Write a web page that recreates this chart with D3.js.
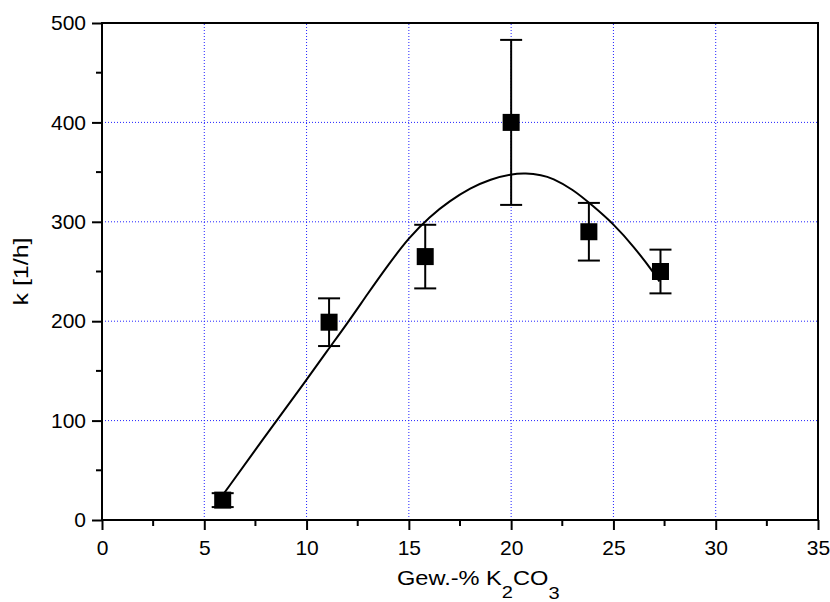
<!DOCTYPE html>
<html>
<head>
<meta charset="utf-8">
<title>k vs K2CO3</title>
<script src="https://d3js.org/d3.v7.min.js"></script>
<style>
    body { margin: 0; background: #fff; }
    text { font-family: "Liberation Sans", Arial, sans-serif; fill: #000; }
</style>
</head>
<body>
<script>
    // measured points (x = Gew.-% K2CO3, k in 1/h, error +/-)
    const xValues = [5.9, 11.1, 15.8, 20.0, 23.8, 27.3];
    const kValues = [20, 199, 265, 400, 290, 250];
    const kErrors = [7, 24, 32, 83, 29, 22];

    // fitted curve
    const fitX = [5.9, 8, 10, 11, 12, 13, 14, 15, 16, 17, 18, 19, 20, 20.7, 21.5, 22, 23, 24, 25, 26, 27, 27.25];
    const fitY = [25, 85, 141, 170, 198, 228, 257, 284, 305, 321, 334, 343, 348, 349, 347, 344, 333, 316, 298, 275, 248, 240];

    const xTicks = [0, 5, 10, 15, 20, 25, 30, 35];
    const yTicks = [0, 100, 200, 300, 400, 500];

    const width = 830, height = 602;
    const margin = { left: 102, right: 12, top: 23, bottom: 82 };

    const svg = d3.select("body").append("svg")
        .attr("width", width)
        .attr("height", height);

    const x = d3.scaleLinear().domain([0, 35]).range([margin.left, width - margin.right]);
    const y = d3.scaleLinear().domain([0, 500]).range([height - margin.bottom, margin.top]);

    // grid
    const grid = svg.append("g")
        .attr("stroke", "#2020ff")
        .attr("stroke-width", 1)
        .attr("stroke-dasharray", "1,2");
    grid.selectAll(".gx").data(xTicks.slice(1, -1)).join("line")
        .attr("class", "gx")
        .attr("x1", d => x(d)).attr("x2", d => x(d))
        .attr("y1", y(0)).attr("y2", y(500));
    grid.selectAll(".gy").data(yTicks.slice(1, -1)).join("line")
        .attr("class", "gy")
        .attr("y1", d => y(d)).attr("y2", d => y(d))
        .attr("x1", x(0)).attr("x2", x(35));

    // axes
    const xAxis = d3.axisBottom(x).tickValues(xTicks).tickSize(10).tickPadding(10).tickSizeOuter(0);
    const yAxis = d3.axisLeft(y).tickValues(yTicks).tickSize(10).tickPadding(6).tickSizeOuter(0);

    const gx = svg.append("g").attr("transform", "translate(0," + y(0) + ")").call(xAxis);
    const gy = svg.append("g").attr("transform", "translate(" + x(0) + ",0)").call(yAxis);
    [gx, gy].forEach(function(g) {
        g.select(".domain").remove();
        g.selectAll(".tick line").attr("stroke", "#000").attr("stroke-width", 2);
        g.selectAll(".tick text").attr("font-size", 21);
    });

    // minor ticks
    const minorX = d3.range(2.5, 35, 5);
    const minorY = d3.range(50, 500, 100);
    svg.append("g").selectAll("line").data(minorX).join("line")
        .attr("x1", d => x(d)).attr("x2", d => x(d))
        .attr("y1", y(0)).attr("y2", y(0) + 6)
        .attr("stroke", "#000").attr("stroke-width", 2);
    svg.append("g").selectAll("line").data(minorY).join("line")
        .attr("y1", d => y(d)).attr("y2", d => y(d))
        .attr("x1", x(0)).attr("x2", x(0) - 6)
        .attr("stroke", "#000").attr("stroke-width", 2);

    // frame
    svg.append("rect")
        .attr("x", x(0)).attr("y", y(500))
        .attr("width", x(35) - x(0)).attr("height", y(0) - y(500))
        .attr("fill", "none").attr("stroke", "#000").attr("stroke-width", 2);

    // fit line
    const fit = fitX.map((d, i) => [d, fitY[i]]);
    svg.append("path")
        .datum(fit)
        .attr("fill", "none")
        .attr("stroke", "#000")
        .attr("stroke-width", 2)
        .attr("d", d3.line().x(d => x(d[0])).y(d => y(d[1])).curve(d3.curveBasis));

    // error bars and markers
    const pts = xValues.map((d, i) => ({ x: d, k: kValues[i], e: kErrors[i] }));
    const err = svg.append("g").attr("stroke", "#000").attr("stroke-width", 2);
    err.selectAll(".v").data(pts).join("line")
        .attr("class", "v")
        .attr("x1", d => x(d.x)).attr("x2", d => x(d.x))
        .attr("y1", d => y(d.k - d.e)).attr("y2", d => y(d.k + d.e));
    err.selectAll(".t").data(pts).join("line")
        .attr("class", "t")
        .attr("x1", d => x(d.x) - 11).attr("x2", d => x(d.x) + 11)
        .attr("y1", d => y(d.k + d.e)).attr("y2", d => y(d.k + d.e));
    err.selectAll(".b").data(pts).join("line")
        .attr("class", "b")
        .attr("x1", d => x(d.x) - 11).attr("x2", d => x(d.x) + 11)
        .attr("y1", d => y(d.k - d.e)).attr("y2", d => y(d.k - d.e));

    svg.append("g").selectAll("rect").data(pts).join("rect")
        .attr("x", d => x(d.x) - 8.5).attr("y", d => y(d.k) - 8.5)
        .attr("width", 17).attr("height", 17)
        .attr("fill", "#000");

    // axis titles (the original lettering is a little stretched sideways)
    const xt = svg.append("text")
        .attr("transform", "translate(397,585) scale(1.18,1)")
        .attr("font-size", 20);
    xt.append("tspan").text("Gew.-% K");
    xt.append("tspan").text("2").attr("font-size", 17).attr("dy", 13);
    xt.append("tspan").text("CO").attr("dy", -13);
    xt.append("tspan").text("3").attr("font-size", 17).attr("dy", 14);

    svg.append("text")
        .attr("transform", "translate(28," + (y(0) + y(500)) / 2 + ") rotate(-90) scale(1.25,1)")
        .attr("text-anchor", "middle")
        .attr("font-size", 20)
        .text("k [1/h]");
</script>
</body>
</html>
